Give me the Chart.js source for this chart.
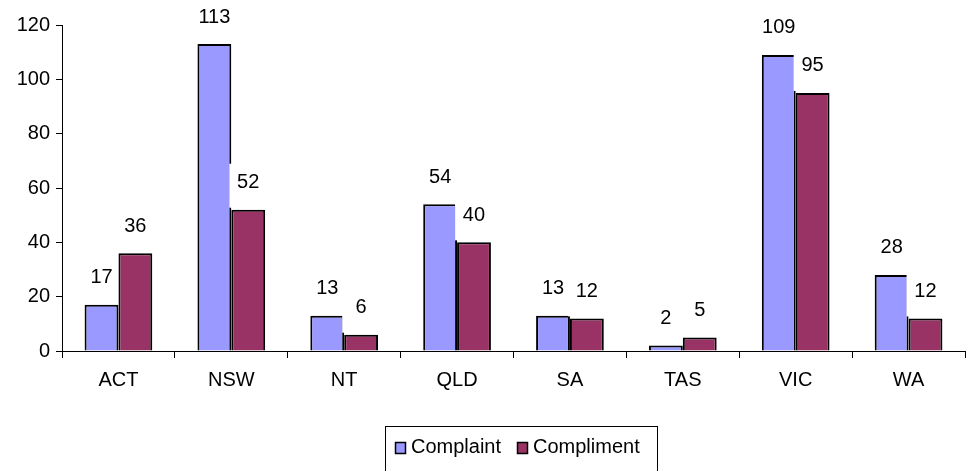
<!DOCTYPE html>
<html>
<head>
<meta charset="utf-8">
<script src="https://cdn.jsdelivr.net/npm/chart.js@4/dist/chart.umd.min.js"></script>
<style>
  html, body { margin: 0; padding: 0; background: #fff; }
  #wrap { width: 972px; height: 471px; }
</style>
</head>
<body>
<div id="wrap"><canvas id="chart" width="972" height="471"></canvas></div>
<script>
// Complaints vs compliments by state
const states = ['ACT', 'NSW', 'NT', 'QLD', 'SA', 'TAS', 'VIC', 'WA'];
const complaints = [17, 113, 13, 54, 13, 2, 109, 28];
const compliments = [36, 52, 6, 40, 12, 5, 95, 12];
const yTicks = [0, 20, 40, 60, 80, 100, 120];

const FONT = 'Liberation Sans, Arial, sans-serif';
const BLUE = '#9999FF';
const PLUM = '#993366';

// value labels above each bar; compliment labels sit on a white box
// that clips the neighbour's border, like the original
const valueLabels = {
  id: 'valueLabels',
  afterDatasetsDraw(chart) {
    const ctx = chart.ctx;
    ctx.save();
    ctx.font = '20px ' + FONT;
    ctx.textAlign = 'center';
    ctx.textBaseline = 'middle';
    chart.data.datasets.forEach((ds, i) => {
      chart.getDatasetMeta(i).data.forEach((bar, j) => {
        const txt = String(ds.data[j]);
        const w = ctx.measureText(txt).width;
        const top = bar.y;
        if (i === 1) {
          const left = bar.x - bar.width / 2 - 2;
          ctx.fillStyle = '#fff';
          ctx.fillRect(left, top - 46, bar.x + w / 2 + 6 - left, 44);
        }
        ctx.fillStyle = '#000';
        ctx.fillText(txt, bar.x, top - 27);
      });
    });
    ctx.restore();
  }
};

// boxed legend at the bottom
const boxLegend = {
  id: 'boxLegend',
  afterDraw(chart) {
    const ctx = chart.ctx;
    ctx.save();
    ctx.strokeStyle = '#000';
    ctx.lineWidth = 1;
    ctx.strokeRect(385.5, 426.5, 272, 50);
    ctx.font = '20px ' + FONT;
    ctx.textBaseline = 'middle';
    const items = [
      { label: 'Complaint', color: BLUE, x: 395 },
      { label: 'Compliment', color: PLUM, x: 517 }
    ];
    items.forEach(it => {
      ctx.fillStyle = it.color;
      ctx.fillRect(it.x, 442, 10, 11);
      ctx.lineWidth = 1.5;
      ctx.strokeRect(it.x + 0.5, 442.5, 10, 11);
      ctx.fillStyle = '#000';
      ctx.fillText(it.label, it.x + 16, 447);
    });
    ctx.restore();
  }
};

new Chart(document.getElementById('chart'), {
  type: 'bar',
  data: {
    labels: states,
    datasets: [
      { label: 'Complaint', data: complaints, backgroundColor: BLUE, borderColor: '#000', borderWidth: 2 },
      { label: 'Compliment', data: compliments, backgroundColor: PLUM, borderColor: '#000', borderWidth: 2 }
    ]
  },
  options: {
    responsive: false,
    animation: false,
    layout: { padding: { top: 25, right: 7, bottom: 80, left: 0 } },
    datasets: { bar: { categoryPercentage: 0.6, barPercentage: 1 } },
    scales: {
      x: {
        grid: { display: true, drawOnChartArea: false, drawTicks: true, tickLength: 7, color: '#000', offset: true },
        border: { color: '#000', width: 1 },
        ticks: { color: '#000', font: { size: 20, family: FONT }, padding: 10 },
        afterFit(scale) { scale.height = 40; }
      },
      y: {
        min: 0,
        max: 120,
        afterBuildTicks(scale) { scale.ticks = yTicks.map(v => ({ value: v })); },
        grid: { drawOnChartArea: false, drawTicks: true, tickLength: 6, color: '#000' },
        border: { color: '#000', width: 1 },
        ticks: { color: '#000', font: { size: 20, family: FONT }, padding: 6 },
        afterFit(scale) { scale.width = 62; }
      }
    },
    plugins: {
      legend: { display: false },
      tooltip: { enabled: false }
    }
  },
  plugins: [valueLabels, boxLegend]
});
</script>
</body>
</html>
